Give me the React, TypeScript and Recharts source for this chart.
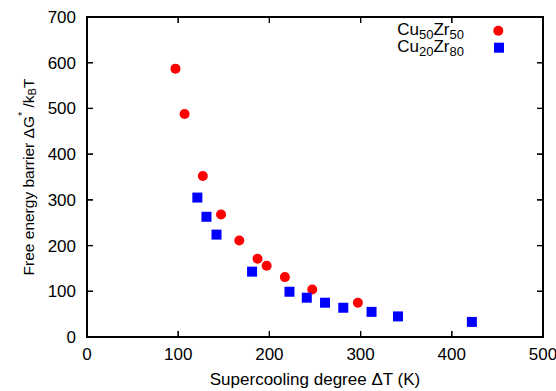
import React from 'react';
import * as Recharts from 'recharts';
import { ScatterChart, Scatter, XAxis, YAxis, Legend } from 'recharts';

const cu50X = [97, 107, 127, 147, 167, 187, 197, 217, 247, 297];
const cu50Y = [587, 488, 352, 268, 211, 171, 156, 131, 104, 75];
const cu20X = [121, 131, 142, 181, 222, 241, 261, 281, 312, 341, 422];
const cu20Y = [305, 263, 224, 143, 99, 86, 75, 64, 55, 45, 33];
const xTicks = [0, 100, 200, 300, 400, 500];
const yTicks = [0, 100, 200, 300, 400, 500, 600, 700];

const cu50Data = cu50X.map((x, i) => ({ x, y: cu50Y[i] }));
const cu20Data = cu20X.map((x, i) => ({ x, y: cu20Y[i] }));

const X_MAX = xTicks[xTicks.length - 1];
const Y_MAX = yTicks[yTicks.length - 1];

const W = 556;
const H = 391;
const PLOT = { left: 87, top: 17, right: 543, bottom: 337 };

const FONT = '"Liberation Sans", Arial, Helvetica, sans-serif';

const R: any = Recharts;
const usePlotAreaSafe: () => any = R.usePlotArea ? R.usePlotArea : () => undefined;

const CircleShape = (p: any) => <circle cx={p.cx} cy={p.cy} r={5} fill="#ff0000" />;
const SquareShape = (p: any) => <rect x={p.cx - 5} y={p.cy - 5} width={10} height={10} fill="#0000ff" />;

function frameParts(x: number, y: number, width: number, height: number, prefix: string) {
  const T = 6;
  const parts: any[] = [];
  parts.push(<rect key={prefix + 'ft'} x={x - 1} y={y - 1} width={width + 2} height={2} fill="#000" />);
  parts.push(<rect key={prefix + 'fb'} x={x - 1} y={y + height - 1} width={width + 2} height={2} fill="#000" />);
  parts.push(<rect key={prefix + 'fl'} x={x - 1} y={y - 1} width={2} height={height + 2} fill="#000" />);
  parts.push(<rect key={prefix + 'fr'} x={x + width - 1} y={y - 1} width={2} height={height + 2} fill="#000" />);
  xTicks.forEach((v, i) => {
    const px = x + (v / X_MAX) * width;
    parts.push(<rect key={prefix + 'xb' + i} x={px - 0.6} y={y + height - T} width={1.2} height={T} fill="#000" />);
    parts.push(<rect key={prefix + 'xt' + i} x={px - 0.6} y={y} width={1.2} height={T} fill="#000" />);
  });
  yTicks.forEach((v, i) => {
    const py = y + height - (v / Y_MAX) * height;
    parts.push(<rect key={prefix + 'yl' + i} x={x} y={py - 0.6} width={T} height={1.2} fill="#000" />);
    parts.push(<rect key={prefix + 'yr' + i} x={x + width - T} y={py - 0.6} width={T} height={1.2} fill="#000" />);
  });
  return parts;
}

function Frame() {
  const pa = usePlotAreaSafe() || { x: PLOT.left, y: PLOT.top, width: PLOT.right - PLOT.left, height: PLOT.bottom - PLOT.top };
  return <g className="frame">{frameParts(pa.x, pa.y, pa.width, pa.height, 'in')}</g>;
}

const YLabel = (props: any) => {
  const vb = props.viewBox || { x: 0, y: PLOT.top, width: PLOT.left, height: PLOT.bottom - PLOT.top };
  const cx = vb.x + 28;
  const cy = vb.y + vb.height / 2;
  return (
    <text x={cx} y={cy} transform={`rotate(-90 ${cx} ${cy})`} textAnchor="middle" dominantBaseline="central"
      fontSize={15.5} fill="#000" fontFamily={FONT}>
      Free energy barrier ΔG<tspan dy={-6} fontSize={11}>*</tspan>
      <tspan dy={6}> /k</tspan>
      <tspan dy={4} fontSize={11}>B</tspan>
      <tspan dy={-4}>T</tspan>
    </text>
  );
};

const XLabel = (props: any) => {
  const vb = props.viewBox || { x: PLOT.left, y: PLOT.bottom, width: PLOT.right - PLOT.left, height: H - PLOT.bottom };
  const cx = vb.x + vb.width / 2;
  return (
    <text x={cx} y={385} textAnchor="middle" fontSize={17} fill="#000" fontFamily={FONT}>
      Supercooling degree ΔT (K)
    </text>
  );
};

const LegendContent = () => (
  <svg width={150} height={45} style={{ display: 'block' }}>
    <text x={84} y={20} textAnchor="end" fontSize={17} fill="#000" fontFamily={FONT}>
      Cu<tspan fontSize={13} dy={3.5}>50</tspan>
      <tspan dy={-3.5}>Zr</tspan>
      <tspan fontSize={13} dy={3.5}>50</tspan>
    </text>
    <circle cx={118.3} cy={15.7} r={5} fill="#ff0000" />
    <text x={84} y={37} textAnchor="end" fontSize={17} fill="#000" fontFamily={FONT}>
      Cu<tspan fontSize={13} dy={3.5}>20</tspan>
      <tspan dy={-3.5}>Zr</tspan>
      <tspan fontSize={13} dy={3.5}>80</tspan>
    </text>
    <rect x={114} y={27.7} width={10} height={10} fill="#0000ff" />
  </svg>
);

const tickStyle = { fill: '#000', fontSize: 17, fontFamily: FONT };

export default function App() {
  return (
    <div style={{ position: 'absolute', left: 0, top: 0, width: W, height: H }}>
      <div style={{ position: 'absolute', left: 0, top: 0 }}>
        <ScatterChart width={W} height={H} margin={{ top: PLOT.top, right: W - PLOT.right, left: 0, bottom: 0 }}>
          <XAxis xAxisId={0} type="number" dataKey="x" domain={[0, X_MAX]} ticks={xTicks} height={H - PLOT.bottom}
            stroke="#000" axisLine={false} tickLine={false} tickSize={0} tickMargin={11} tick={tickStyle}
            interval={0} allowDataOverflow label={<XLabel />} />
          <YAxis yAxisId={0} type="number" dataKey="y" domain={[0, Y_MAX]} ticks={yTicks} width={PLOT.left}
            stroke="#000" axisLine={false} tickLine={false} tickSize={0} tickMargin={11} tick={tickStyle}
            interval={0} allowDataOverflow label={<YLabel />} />
          <Legend layout="horizontal" verticalAlign="middle" align="center" content={<LegendContent />}
            wrapperStyle={{ left: 380, top: 15, width: 150, height: 45 }} />
          <Frame />
          <Scatter name="Cu50Zr50" data={cu50Data} xAxisId={0} yAxisId={0} shape={CircleShape} isAnimationActive={false} />
          <Scatter name="Cu20Zr80" data={cu20Data} xAxisId={0} yAxisId={0} shape={SquareShape} isAnimationActive={false} />
        </ScatterChart>
      </div>
      <svg width={W} height={H} style={{ position: 'absolute', left: 0, top: 0, pointerEvents: 'none', zIndex: 5 }}>
        {frameParts(PLOT.left, PLOT.top, PLOT.right - PLOT.left, PLOT.bottom - PLOT.top, 'ov')}
      </svg>
    </div>
  );
}
